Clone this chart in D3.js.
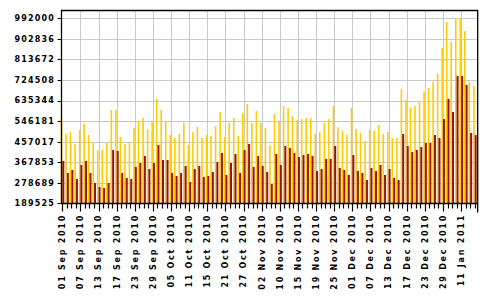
<!DOCTYPE html>
<html>
<head>
<meta charset="utf-8">
<script src="https://cdn.jsdelivr.net/npm/d3@7"></script>
<style>
  body { margin: 0; background: #fff; }
  text { font-family: "DejaVu Sans", Verdana, sans-serif; font-weight: bold; }
</style>
</head>
<body>
<div id="chart"></div>
<script>
// tick labels shown under every 4th bar pair
const dateLabels = ["01 Sep 2010", "07 Sep 2010", "13 Sep 2010", "17 Sep 2010", "23 Sep 2010", "29 Sep 2010",
    "05 Oct 2010", "11 Oct 2010", "15 Oct 2010", "21 Oct 2010", "27 Oct 2010", "02 Nov 2010",
    "10 Nov 2010", "15 Nov 2010", "19 Nov 2010", "25 Nov 2010", "01 Dec 2010", "07 Dec 2010",
    "13 Dec 2010", "17 Dec 2010", "23 Dec 2010", "29 Dec 2010", "11 Jan 2011"];

const yTicks = [189525, 278689, 367853, 457017, 546181, 635344, 724508, 813672, 902836, 992000];

const totals = [562600, 490100, 498800, 446700, 507500, 533500, 485800, 455400, 420700, 420700,
    451100, 594200, 594200, 477100, 446700, 455400, 516100, 546500, 559500, 511800,
    542200, 641900, 594200, 546500, 485800, 472800, 490100, 537800, 442400, 498800,
    520500, 472800, 485800, 481400, 524800, 585500, 477100, 537800, 559500, 481400,
    581200, 620200, 537800, 589900, 537800, 516100, 442400, 576900, 542200, 611600,
    602900, 568200, 550800, 555200, 559500, 559500, 490100, 498800, 537800, 555200,
    611600, 520500, 503100, 485800, 602900, 511800, 494500, 459800, 507500, 503100,
    529200, 490100, 498800, 472800, 472800, 685300, 637600, 602900, 611600, 633300,
    672300, 689700, 715700, 750400, 863200, 975900, 889200, 992000, 992000, 936900,
    715700, 698300];

const uniques = [373000, 321000, 334000, 294900, 355700, 373000, 321000, 277600, 260200, 255900,
    277600, 420700, 416400, 321000, 299300, 294900, 347000, 364300, 394700, 338300,
    364300, 442400, 377300, 377300, 321000, 307900, 321000, 351300, 281900, 338300,
    351300, 303600, 307900, 325300, 368700, 407700, 312300, 364300, 403400, 321000,
    420700, 446700, 347000, 394700, 351300, 325300, 273200, 403400, 355700, 438100,
    429400, 407700, 390400, 399000, 403400, 394700, 329600, 338300, 381700, 381700,
    438100, 342600, 334000, 312300, 399000, 329600, 321000, 290600, 342600, 329600,
    355700, 312300, 338300, 299300, 290600, 490100, 438100, 412000, 420700, 433700,
    451100, 451100, 485800, 472800, 555200, 641900, 585500, 741700, 741700, 702700,
    494500, 485800];

const width = 495, height = 300;
const plotL = 61.5, plotR = 477.7, plotT = 10.5, plotB = 203.5;

const svg = d3.select("#chart").append("svg")
    .attr("width", width)
    .attr("height", height);

const idx = d3.range(totals.length);

const x = d3.scalePoint()
    .domain(idx)
    .range([62.3, 474.7]);

const y = d3.scaleLinear()
    .domain([yTicks[0], yTicks[yTicks.length - 1]])
    .range([plotB - 0.2, 18.3]);

// grid
svg.append("g")
    .selectAll("line")
    .data(yTicks.slice(1))
    .enter().append("line")
    .attr("x1", plotL).attr("x2", plotR)
    .attr("y1", d => Math.round(y(d)) + 0.5)
    .attr("y2", d => Math.round(y(d)) + 0.5)
    .attr("stroke", "#c8c8c8");

svg.append("g")
    .selectAll("line")
    .data(idx.filter(i => i % 4 === 0 && i > 0))
    .enter().append("line")
    .attr("x1", d => Math.round(x(d)) + 0.5)
    .attr("x2", d => Math.round(x(d)) + 0.5)
    .attr("y1", plotT).attr("y2", plotB)
    .attr("stroke", "#c8c8c8");

// bars: yellow then dark red, side by side
svg.append("g")
    .selectAll("rect")
    .data(idx)
    .enter().append("rect")
    .attr("x", i => x(i) - 1.6)
    .attr("width", 1.6)
    .attr("y", i => y(totals[i]))
    .attr("height", i => y(yTicks[0]) - y(totals[i]))
    .attr("fill", "#ffcc00");

svg.append("g")
    .selectAll("rect")
    .data(idx)
    .enter().append("rect")
    .attr("x", i => x(i))
    .attr("width", 2)
    .attr("y", i => y(uniques[i]))
    .attr("height", i => y(yTicks[0]) - y(uniques[i]))
    .attr("fill", "#9a1400");

// frame
svg.append("path")
    .attr("d", `M${plotL},${plotB}V${plotT}H${plotR}V${plotB + 9}M${plotL - 0.5},${plotB}H${plotR}`)
    .attr("fill", "none")
    .attr("stroke", "#000")
    .attr("stroke-width", 1.3);

// y axis ticks + labels
const yg = svg.append("g");
yg.selectAll("line")
    .data(yTicks)
    .enter().append("line")
    .attr("x1", plotL - 4).attr("x2", plotL)
    .attr("y1", d => Math.round(y(d)) + 0.5)
    .attr("y2", d => Math.round(y(d)) + 0.5)
    .attr("stroke", "#000");
yg.selectAll("text")
    .data(yTicks)
    .enter().append("text")
    .attr("x", 55)
    .attr("y", d => y(d))
    .attr("dy", "0.36em")
    .attr("text-anchor", "end")
    .style("font-size", "8px")
    .style("letter-spacing", "1.2px")
    .text(d => d);

// x axis ticks + labels
const xg = svg.append("g");
xg.selectAll("line")
    .data(idx)
    .enter().append("line")
    .attr("x1", i => Math.round(x(i)) + 0.5)
    .attr("x2", i => Math.round(x(i)) + 0.5)
    .attr("y1", plotB)
    .attr("y2", i => i % 4 === 0 ? plotB + 8 : plotB + 5)
    .attr("stroke", "#000")
    .attr("stroke-width", 1.2);

xg.selectAll("text")
    .data(dateLabels)
    .enter().append("text")
    .attr("transform", (d, k) => `translate(${x(k * 4)},214) rotate(-90)`)
    .attr("dy", "0.36em")
    .attr("text-anchor", "end")
    .style("font-size", "8px")
    .style("letter-spacing", "1.75px")
    .text(d => d);
</script>
</body>
</html>
